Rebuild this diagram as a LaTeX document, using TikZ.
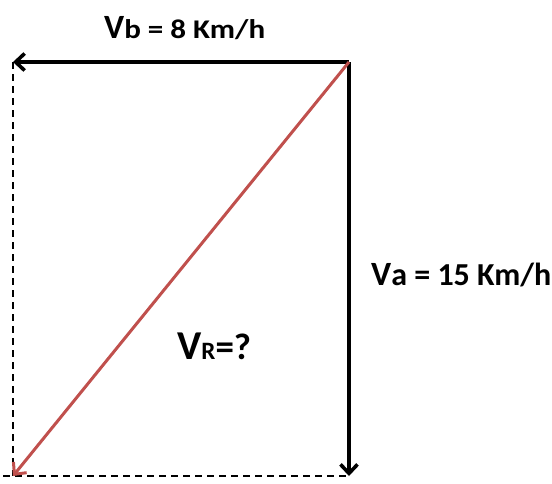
\documentclass[tikz,border=0pt]{standalone}
\usepackage{fontspec}
\setmainfont{Carlito}
\usetikzlibrary{arrows.meta}
\definecolor{vred}{RGB}{192,80,77}
\newcommand{\fsz}[2]{{\fontsize{#1}{#1}\selectfont #2}}

\begin{document}
\begin{tikzpicture}[x=1pt, y=-1pt,
    vec/.style={line width=3.6pt, -{Straight Barb[length=9pt,width=17pt]}},
    helper/.style={line width=1.5pt, dash pattern=on 7pt off 5pt},
    lbl/.style={anchor=base west, inner sep=0pt, font=\bfseries}]
  \useasboundingbox (0,0) rectangle (552,483);

  % corners of the rectangle
  \coordinate (tr) at (349,62);
  \coordinate (tl) at (13,62);
  \coordinate (br) at (349,476);
  \coordinate (bl) at (13,476);
  \coordinate (bx) at (3,476);

  % dashed sides
  \draw[helper] (tl) -- (bl);
  \draw[helper] (bx) -- (br);

  % the two velocities
  \draw[vec] (tr) -- (tl);
  \draw[vec] (tr) -- (br);

  % resultant
  \draw[vec, vred, line width=3pt] (tr) -- (bl);

  % labels
  \node[lbl] (vb) at (104,38) {\fsz{34}{V}\scalebox{1.15}[1]{\fsz{27}{b = 8 Km/h}}};
  \node[lbl] (va) at (371,285) {\fsz{34}{V}\fsz{32}{a = 15 Km/h}};
  \node[lbl] (vr) at (177,359) {\fsz{41}{V}\fsz{25}{R}\fsz{37}{=?}};
\end{tikzpicture}
\end{document}
